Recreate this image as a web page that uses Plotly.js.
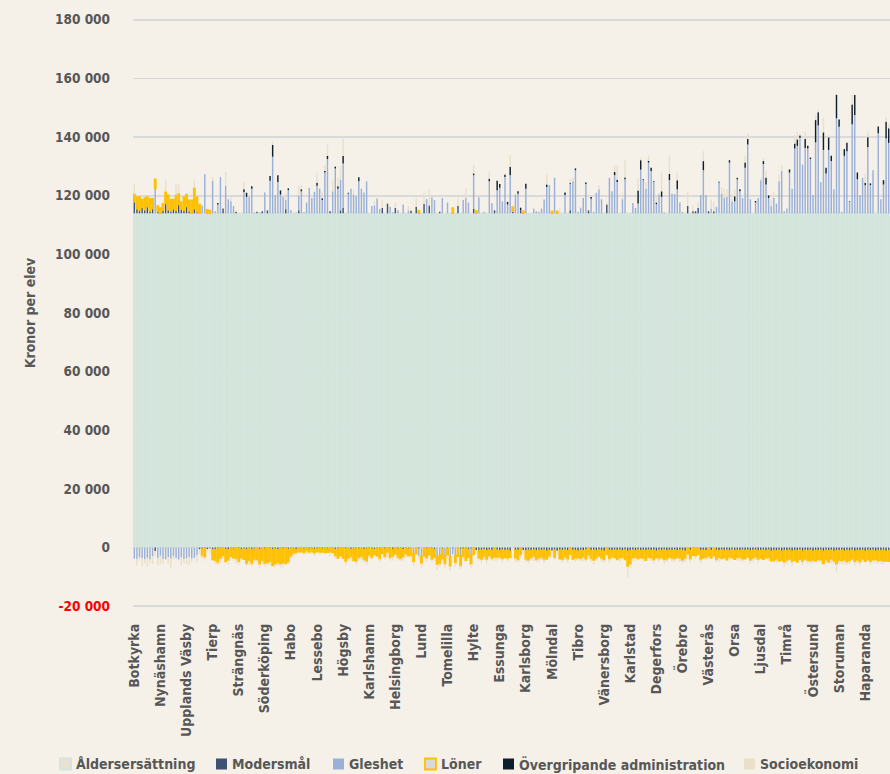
<!DOCTYPE html>
<html><head><meta charset="utf-8">
<script src="https://cdn.plot.ly/plotly-3.0.1.min.js"></script>
<style>html,body{margin:0;padding:0;background:#f5f1e9;} #chart{width:890px;height:774px;}</style>
</head><body><div id="chart"></div>
<script>
// Tick labels: one named municipality every 10th bar
const tickNames = ["Botkyrka","Nynäshamn","Upplands Väsby","Tierp","Strängnäs","Söderköping","Habo","Lessebo","Högsby","Karlshamn","Helsingborg","Lund","Tomelilla","Hylte","Essunga","Karlsborg","Mölndal","Tibro","Vänersborg","Karlstad","Degerfors","Örebro","Västerås","Orsa","Ljusdal","Timrå","Östersund","Storuman","Haparanda"];
const tickEvery = 10;

const aldersersattning = [
114000,114000,114000,114000,114000,114000,114000,114000,114000,114000,
114000,114000,114000,114000,114000,114000,114000,114000,114000,114000,
114000,114000,114000,114000,114000,114000,114000,114000,114000,114000,
114000,114000,114000,114000,114000,114000,114000,114000,114000,114000,
114000,114000,114000,114000,114000,114000,114000,114000,114000,114000,
114000,114000,114000,114000,114000,114000,114000,114000,114000,114000,
114000,114000,114000,114000,114000,114000,114000,114000,114000,114000,
114000,114000,114000,114000,114000,114000,114000,114000,114000,114000,
114000,114000,114000,114000,114000,114000,114000,114000,114000,114000,
114000,114000,114000,114000,114000,114000,114000,114000,114000,114000,
114000,114000,114000,114000,114000,114000,114000,114000,114000,114000,
114000,114000,114000,114000,114000,114000,114000,114000,114000,114000,
114000,114000,114000,114000,114000,114000,114000,114000,114000,114000,
114000,114000,114000,114000,114000,114000,114000,114000,114000,114000,
114000,114000,114000,114000,114000,114000,114000,114000,114000,114000,
114000,114000,114000,114000,114000,114000,114000,114000,114000,114000,
114000,114000,114000,114000,114000,114000,114000,114000,114000,114000,
114000,114000,114000,114000,114000,114000,114000,114000,114000,114000,
114000,114000,114000,114000,114000,114000,114000,114000,114000,114000,
114000,114000,114000,114000,114000,114000,114000,114000,114000,114000,
114000,114000,114000,114000,114000,114000,114000,114000,114000,114000,
114000,114000,114000,114000,114000,114000,114000,114000,114000,114000,
114000,114000,114000,114000,114000,114000,114000,114000,114000,114000,
114000,114000,114000,114000,114000,114000,114000,114000,114000,114000,
114000,114000,114000,114000,114000,114000,114000,114000,114000,114000,
114000,114000,114000,114000,114000,114000,114000,114000,114000,114000,
114000,114000,114000,114000,114000,114000,114000,114000,114000,114000,
114000,114000,114000,114000,114000,114000,114000,114000,114000,114000,
114000,114000,114000,114000,114000,114000,114000,114000,114000,114000];

const modersmal = [
3900,1500,1000,2000,1200,2200,800,1500,-1200,600,
0,1000,3300,1200,800,1500,1000,3000,1400,1000,
2300,800,0,1500,500,-600,-500,-400,-500,-300,
-700,-600,-500,-400,1600,-600,-700,-300,-500,500,
-400,-600,-500,-700,-400,-600,-500,500,-600,700,
-500,1000,-400,-600,-500,-700,-300,-500,1400,-600,
-400,-500,-600,1000,-400,-500,-300,-500,-400,-600,
-500,-400,-500,-300,-500,700,-400,-600,-500,1000,
1800,-500,-400,-600,-500,-300,-500,-400,-600,-500,
-400,-500,-600,-400,-500,1800,-500,3300,-400,-600,
1800,-500,-400,-600,-300,-500,900,0,2200,-300,
0,3200,-500,2700,-400,-600,0,500,-500,0,
-400,0,-300,0,2500,-400,-500,-400,-600,-300,
1600,-800,-1000,-900,-700,-1100,-800,-1000,1000,-900,
-1100,-800,-1000,-900,-1200,700,-900,-1000,1000,-800,
-1100,-900,-1000,-800,-1100,-900,-1000,-800,-1200,-900,
-1000,-800,-1100,-900,-1000,-800,-1100,1000,-900,-1000,
-1200,-900,-1100,-800,1000,-1000,-900,-1100,-800,-1000,
-1200,3000,-900,-1100,-800,-1000,-900,-1100,-800,-1200,
-1000,-900,-1100,-800,-1000,-900,-1100,-800,-1000,-900,
-1200,-900,-1000,-800,-1100,-900,-1000,-800,-1100,-900,
-1000,-1200,2500,-900,700,700,1800,-1000,-900,-1100,
700,-1000,700,-900,-1100,-800,-1000,-900,-1100,-800,
-1000,-900,-1100,-800,-1000,-900,-1100,-1000,-800,-1100,
-1000,-900,-1100,-800,-1200,-1000,-1100,-900,-1200,-1000,
-1100,-900,-1200,-1000,-1100,-900,-1200,-1000,-1100,-900,
-1200,-1000,-1100,-900,-1200,-1000,-1100,-900,-1200,-1000,
-1100,-900,-1200,-1000,-1100,-900,-1200,-1000,-1100,-900,
-1200,-1000,-1100,-900,-1200,-1000,-1100,-900,-1200,-1000];

const gleshet = [
-3800,-4000,-3200,-3600,-3900,-3500,-4100,-3000,8400,-3700,
-2800,-3900,-4000,-3300,-3800,-3000,-3600,-4100,-3400,-3900,
-3700,-3200,-3800,-3500,-2600,0,2700,13300,0,0,
11100,700,3000,12400,0,9300,4800,4100,2500,0,
0,0,7300,5600,5600,8400,300,0,300,0,
7100,0,11100,19300,6200,10700,6400,5600,3100,7900,
1100,0,300,5100,7500,400,3700,8700,5200,7300,
9400,8400,4500,13900,18500,0,7500,15300,8400,10500,
15200,0,6700,8400,6400,5800,10900,8400,7100,10900,
0,2500,2700,5000,1400,0,0,0,2200,400,
0,1000,0,3000,0,1000,0,-2200,0,-2600,
-3000,0,4800,0,5500,4500,-3300,-2500,5200,-2800,
3700,-3100,-2000,-2700,0,-2400,4500,5200,3700,-2200,
11400,0,5500,0,500,0,10900,3400,0,7900,
8700,4100,12400,3000,13000,0,6400,6700,0,0,
8400,0,0,1600,700,500,1600,4700,9000,9600,
0,12100,0,0,0,6200,0,9100,10900,14700,
500,1900,5200,10000,0,5000,500,7000,8200,4800,
0,0,12100,7500,13000,10700,0,4800,11600,0,
0,3500,1800,3300,14900,11300,8400,17300,14400,10700,
3100,6500,5600,400,0,11300,6700,6500,8200,3700,
500,0,0,0,0,0,0,6200,14700,6200,
0,1600,0,2200,10500,6700,5200,5600,17300,4100,
4100,11600,7500,5200,15500,23500,4800,0,3700,5200,
11300,16800,9800,5200,2500,5200,3300,10900,14400,700,
1600,13900,8400,22100,23000,25800,16600,22300,22100,18500,
6200,24200,29900,10700,21600,13600,21600,17800,8200,32400,
29500,500,19600,21200,3900,30400,33500,11600,6200,12100,
9600,22600,9600,14700,0,27300,4800,9800,25500,24000];

const loner = [
2600,4100,4600,2700,4000,3400,4200,3500,3200,1900,
1800,2300,4000,5000,3900,3200,5200,3700,2500,4600,
4100,3700,4500,7100,5100,3000,-2200,-2800,1200,1000,
-3400,-3900,-4600,-3300,-2900,-4200,-3600,-2700,-3100,-3800,
-4400,-3000,-3500,-4700,-4100,-4800,-3600,-4200,-5000,-4500,
-4900,-5200,-4400,-5500,-5100,-4600,-5300,-4800,-5400,-4300,
-2600,-1500,-1200,-1400,-1000,-1300,-900,-1100,-1000,-1300,
-900,-1200,-1000,-1400,-1100,-1600,-1300,-2200,-3100,-2800,
-3600,-4200,-3300,-2500,-3900,-4400,-3000,-2700,-3500,-4100,
-2300,-2900,-1800,-2500,-3300,-2000,-2700,-1600,-3100,-2400,
-2200,-2900,-3400,-2600,-1900,-2300,-2800,-2600,-2100,900,
-2300,-2900,-3100,-2500,-3600,-2800,-2400,-3000,-3400,-2700,
-2200,-3200,1800,-2500,-3000,-3300,-2600,-3900,-2800,-3100,
-2400,900,-2600,-3100,-2300,-2900,-2000,-2700,-3300,-2500,
-2200,-3000,-2400,-2800,-2100,1500,-2700,-3200,-2500,700,
-2900,-3400,-2600,-2200,-3000,-2800,-2400,-3300,-2700,-2100,
700,-2600,700,-2900,-3100,-2500,-2800,-2300,-3000,-2700,
-2400,-2900,-2200,-3200,-2600,-2800,-3400,-2500,-2100,-2700,
-3000,-2400,-2900,-2200,-2600,-3100,-2700,-2300,-3300,-5200,
-4600,-2700,-2300,-3000,-2500,-2800,-3200,-2400,-2600,-3300,
-2200,-2900,-2500,-3400,-3000,-2400,-2700,-3100,-2300,-2800,
-3300,-2500,-2200,-3000,-2600,-2900,-2400,-3100,-2700,-2300,
-3000,-2600,-2800,-3200,-2400,-2900,-2500,-3300,-2200,-2700,
-3000,-2600,-2400,-3100,-2800,-2300,-3200,-2700,-2500,-2900,
-2600,-3100,-2400,-2800,-3300,-3500,-2900,-3700,-3200,-4000,
-3400,-3000,-3600,-3300,-3800,-3100,-3500,-2900,-3400,-3700,
-3200,-3600,-3000,-3400,-4200,-3300,-3800,-3100,-3500,-4600,
-3300,-3700,-3200,-3900,-3400,-3000,-3600,-3300,-3800,-3100,
-3500,-3200,-3700,-3400,-3000,-3600,-3300,-3800,-3400,-3700];

const administration = [
0,0,0,0,0,0,0,0,0,0,
0,0,0,0,0,0,0,0,0,0,
0,0,0,0,0,0,0,0,0,0,
0,0,500,0,0,0,0,0,0,0,
0,0,900,1400,0,800,0,0,0,0,
0,0,1600,4000,0,2300,1400,0,0,600,
0,0,0,0,700,0,0,0,0,0,
1000,0,600,500,1100,0,0,600,800,0,
2500,0,300,0,0,0,1400,0,0,0,
0,0,0,0,0,0,0,0,0,0,
0,0,0,0,0,0,0,0,0,0,
0,0,0,0,0,0,0,0,0,0,
0,0,0,0,0,0,0,0,0,0,
600,0,0,0,0,0,900,0,0,3200,
1300,0,800,900,2900,0,0,800,900,0,
1700,0,0,0,0,0,0,0,800,0,
0,0,0,0,0,900,0,300,0,600,
0,0,0,500,0,600,0,0,0,0,
0,0,0,0,1100,700,0,0,600,0,
0,0,0,4500,3200,300,0,600,1100,200,
600,0,1900,0,0,2100,0,0,3100,0,
0,0,0,0,0,0,0,0,3100,0,
0,0,0,0,300,0,0,0,800,0,
1700,500,700,0,1800,1800,0,0,500,0,
0,1000,2300,900,0,0,0,0,0,0,
0,1100,0,1700,2200,700,0,3000,900,500,
0,7600,4600,0,6000,1900,4300,1800,0,8000,
2500,0,2300,2900,200,6700,6800,2300,0,0,
800,3300,600,0,0,2300,0,1500,5700,5000];

const socioekonomi = [
3400,-2200,-900,-2800,-1500,-3100,-1200,-2600,-1800,-2400,
-2900,-1500,4000,-2000,-3200,-1100,4000,3000,-2500,-1400,
-2000,-2700,-1200,2500,-2300,-1500,-1000,-1300,-900,-1600,
1300,-1200,-800,-1500,-1000,4800,-1400,1500,-900,-1700,
-1100,-600,2500,-1000,-1300,-900,-1200,-800,-1400,-1000,
-1100,-700,-1300,1100,-1000,-900,-1200,-1400,2300,-1000,
-800,-1100,-900,3400,1600,-700,-1000,-600,-800,-1100,
3500,-900,2300,2100,3900,-1200,3800,-1000,3200,4600,
6000,-1300,-900,-1500,1500,-1100,-800,-1200,-1000,-1400,
-1000,-700,1400,1400,-1100,2600,-900,-1500,-1000,-1300,
1800,-1100,-800,-1200,-900,1500,-1000,-1400,2900,-1100,
-1600,3900,-1200,5500,-1000,-1300,-1900,-1100,-900,-1500,
-1200,-1700,-1000,-1400,2700,-1200,-900,3400,-1000,-1300,
2900,-1100,-900,-1200,-1000,-1400,2500,-800,-1200,-1000,
-900,-1300,300,-1100,4000,-1000,-1400,-900,-1200,-1300,
-1000,-1100,-800,-1500,-1000,-1200,-900,-1100,3400,-1000,
-1300,-900,-1200,1800,-1100,-1000,-1400,1400,1500,-1100,
-900,-1000,-1300,-900,-1200,-1000,-1400,-900,1400,-1100,
-1000,700,-1300,-800,2300,5000,-1200,2300,5900,-3800,
-1500,-1000,-1200,4100,800,-1100,2300,1900,-1000,-1300,
1900,-1000,6400,-1400,-900,6300,-1100,-1000,2600,-1200,
-1000,-1300,5000,-1100,2100,-1000,2100,-1200,3400,-900,
-1100,3100,3200,-1000,-1300,2200,3200,2600,-1100,2600,
2400,-1000,-1200,-900,2300,1900,-1100,-1300,-1000,-1200,
600,900,2600,-1000,2300,2100,-1300,2300,2100,-1500,
-1100,200,-1300,2900,2600,800,-1400,2500,-1200,-1000,
-1300,1700,800,-1100,4800,-1200,800,-1400,-1000,-3000,
-1200,-1100,-1300,-1000,-1200,3200,-1400,-1100,-1300,-1000,
2900,1900,-1200,-1100,-1300,-1000,-1200,-1100,1500,1500];

const yTickValues = [-20000,0,20000,40000,60000,80000,100000,120000,140000,160000,180000];

// ---------- styling ----------
const BG = '#f5f1e9';
const TXT = '#575757';
const FONT = '"DejaVu Sans Condensed", "DejaVu Sans", sans-serif';
const series = [
  {name:'Åldersersättning', y:aldersersattning, color:'#e9e1d1', line:'#d3e5dc', lw:1.4},
  {name:'Modersmål', y:modersmal, color:'#3f5172', line:'#3f5172', lw:0},
  {name:'Gleshet', y:gleshet, color:'#9ab0d8', line:'#9ab0d8', lw:0},
  {name:'Löner', y:loner, color:'#d9d9d9', line:'#ffc000', lw:1.4},
  {name:'Övergripande administration', y:administration, color:'#0c1e2b', line:'#0c1e2b', lw:0},
  {name:'Socioekonomi', y:socioekonomi, color:'#eadfcb', line:'#eadfcb', lw:0}
];
const xIdx = aldersersattning.map((_, i) => i);
const traces = series.map(s => ({
  type:'bar', name:s.name, x:xIdx, y:s.y, showlegend:false, hoverinfo:'skip',
  marker:{color:s.color, line:{color:s.line, width:s.lw}}
}));

const tickVals = tickNames.map((_, k) => k * tickEvery);
function fmt(v){ return String(Math.abs(v)).replace(/\B(?=(\d{3})+(?!\d))/g, ' '); }
const yTickText = yTickValues.map(v => v < 0 ? '<span style="color:#ff0000">-' + fmt(v) + '</span>' : fmt(v));

// plot frame in pixels (range padded slightly so the end gridlines are drawn)
const PL = 133, PR = 890, PT = 18, PB = 608;
const px2x = p => (p - PL) / (PR - PL);
const px2y = p => (PB - p) / (PB - PT);
const legendY = 764, half = 5.5;
const legendItems = [
  {mx:60, tx:74}, {mx:216, tx:230}, {mx:333, tx:347}, {mx:425, tx:439}, {mx:503, tx:517}, {mx:744, tx:758}
];
const shapes = [], annotations = [];
series.forEach((s, k) => {
  const it = legendItems[k];
  shapes.push({type:'rect', xref:'paper', yref:'paper',
    x0:px2x(it.mx), x1:px2x(it.mx + 2*half), y0:px2y(legendY + half), y1:px2y(legendY - half),
    fillcolor:s.color, line:{color:s.lw ? s.line : s.color, width:s.lw ? 1.8 : 0}});
  annotations.push({xref:'paper', yref:'paper', x:px2x(it.tx), y:px2y(legendY), xanchor:'left', yanchor:'middle',
    showarrow:false, text:s.name, font:{family:FONT, size:14, color:TXT, weight:'bold'}});
});

const layout = {
  width:890, height:774,
  margin:{l:PL, r:890-PR, t:PT, b:774-PB, pad:0},
  paper_bgcolor:BG, plot_bgcolor:BG,
  barmode:'relative', bargap:0.45,
  showlegend:false,
  font:{family:FONT, color:TXT},
  xaxis:{range:[-0.5, aldersersattning.length - 0.5], tickmode:'array', tickvals:tickVals, ticktext:tickNames,
    tickangle:-90, tickfont:{family:FONT, size:14, color:TXT, weight:'bold'}, showgrid:false, zeroline:false,
    showline:false, ticks:'', ticklabelstandoff:12, fixedrange:true},
  yaxis:{range:[-20600, 180600], tickmode:'array', tickvals:yTickValues, ticktext:yTickText,
    tickfont:{family:FONT, size:13.5, color:TXT, weight:'bold'}, gridcolor:'#dadada', gridwidth:1.6,
    zeroline:false, showline:false, ticks:'', ticklabelstandoff:22,
    title:{text:'Kronor per elev', font:{family:FONT, size:14, color:TXT, weight:'bold'}, standoff:16}},
  shapes:shapes, annotations:annotations
};
Plotly.newPlot('chart', traces, layout, {staticPlot:true, displayModeBar:false});
</script></body></html>
